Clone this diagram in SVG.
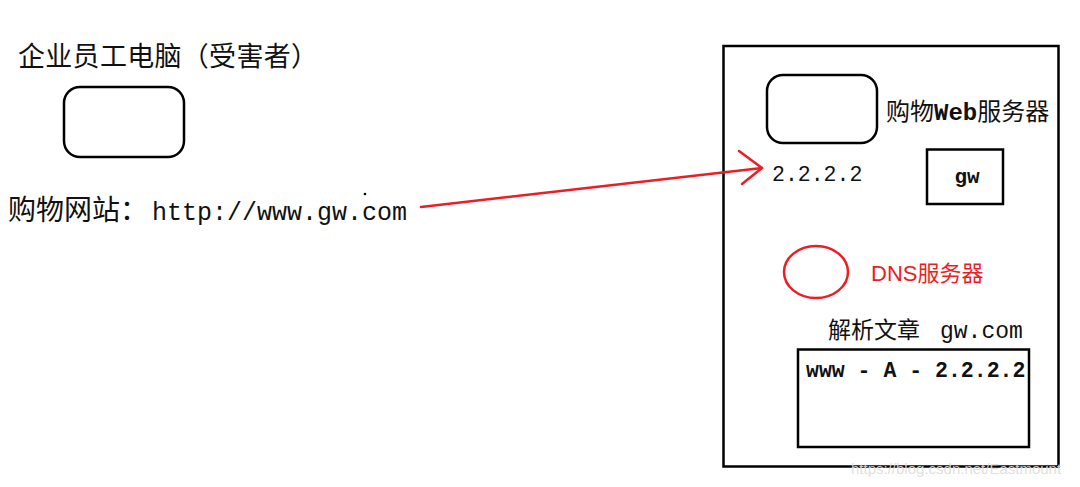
<svg xmlns="http://www.w3.org/2000/svg" width="1080" height="487" viewBox="0 0 1080 487">
<style>
.cjk{font-family:"Noto Sans CJK SC","Noto Sans",sans-serif;fill:#111;}
.mono{font-family:"Liberation Mono","DejaVu Sans Mono",monospace;fill:#111;}
.box{fill:none;stroke:#000;stroke-width:2.5;}
.red{stroke:#ee1c25;fill:none;stroke-width:2.5;stroke-linecap:round;stroke-linejoin:round;}
</style>
<rect width="1080" height="487" fill="#fff"/>
<g id="victim">
<text class="cjk" x="18" y="66" font-size="27" textLength="300" lengthAdjust="spacing">企业员工电脑（受害者）</text>
<rect class="box" x="64" y="87" width="120" height="70" rx="16" stroke-width="2.2"/>
<text x="8" y="220"><tspan class="cjk" font-size="28">购物网站：</tspan><tspan class="mono" font-size="25" x="152">http://www.gw.com</tspan></text>
<circle cx="365" cy="194" r="1.3" fill="#000"/>
</g>
<g id="server">
<rect class="box" x="723.5" y="46" width="335" height="420.5" stroke-width="2.8"/>
</g>
<g id="web">
<rect class="box" x="767" y="75" width="110" height="68" rx="16" stroke-width="2.2"/>
<text x="886" y="120"><tspan class="cjk" font-size="24">购物</tspan><tspan class="mono" font-size="24" font-weight="bold">Web</tspan><tspan class="cjk" font-size="24">服务器</tspan></text>
<text class="mono" x="772" y="181" font-size="21.5">2.2.2.2</text>
</g>
<g id="gw">
<rect class="box" x="927" y="149.5" width="76" height="54.5"/>
<text class="mono" x="967" y="183" font-size="21" font-weight="bold" text-anchor="middle">gw</text>
</g>
<g id="dns">
<ellipse class="red" cx="816" cy="272" rx="32" ry="26"/>
<text x="871" y="281" font-size="22" fill="#ee1c25"><tspan font-family="Liberation Sans Narrow,Liberation Sans,sans-serif">DNS</tspan><tspan font-family="Noto Sans CJK SC,sans-serif">服务器</tspan></text>
</g>
<g id="zone">
<text x="828" y="338"><tspan class="cjk" font-size="23">解析文章</tspan><tspan class="mono" font-size="23" x="940">gw.com</tspan></text>
<rect class="box" x="798" y="349.5" width="231" height="97.5"/>
<text class="mono" x="806" y="377" font-size="21.5" font-weight="bold">www - A - 2.2.2.2</text>
</g>
<g id="connectors">
<path class="red" d="M421 207 L762 168"/>
<path class="red" d="M739 151 L762 168 L742 184"/>
</g>
<text x="851" y="474" font-family="Liberation Sans,sans-serif" font-size="15" fill="#ddd" opacity="0.9">https://blog.csdn.net/Eastmount</text>
</svg>
